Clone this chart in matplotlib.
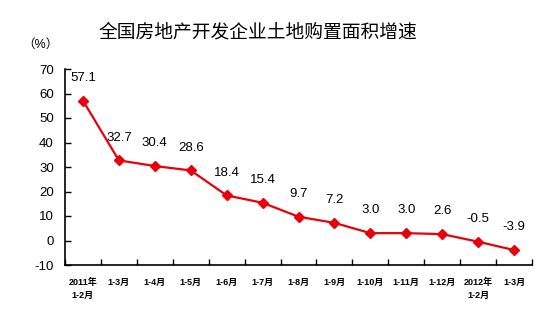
import numpy as np
import matplotlib
matplotlib.use("Agg")
import matplotlib.pyplot as plt

plt.rcParams["font.family"] = ["Liberation Sans", "Noto Sans CJK SC"]

# ── 数据 ────────────────────────────────────────────────────────────────
CATEGORIES = ["2011年\n1-2月", "1-3月", "1-4月", "1-5月", "1-6月", "1-7月",
              "1-8月", "1-9月", "1-10月", "1-11月", "1-12月",
              "2012年\n1-2月", "1-3月"]
GROWTH = [57.1, 32.7, 30.4, 28.6, 18.4, 15.4, 9.7, 7.2, 3.0, 3.0, 2.6, -0.5, -3.9]
Y_TICKS = [-10, 0, 10, 20, 30, 40, 50, 60, 70]

RED = "#E8000B"

fig = plt.figure(figsize=(5.55, 3.23), dpi=100)
ax = fig.add_axes([65 / 555, 58 / 323, 467 / 555, 196 / 323])

x = np.arange(len(GROWTH))
ax.plot(x, GROWTH, color=RED, linewidth=1.6, marker="D", markersize=5,
        markerfacecolor=RED, markeredgecolor=RED, zorder=3)

for xi, v in zip(x, GROWTH):
    ax.annotate(f"{v:.1f}", (xi, v), xytext=(0, 12), textcoords="offset points",
                ha="center", va="bottom", fontsize=9.5, color="black")

ax.set_xlim(-0.5, len(GROWTH) - 0.5)
ax.set_ylim(-10, 70)
ax.set_yticks(Y_TICKS)
ax.set_yticklabels([str(t) for t in Y_TICKS], fontsize=9.5)

# 分类标签放在格子中间，刻度线放在格子边界
ax.set_xticks(np.arange(len(GROWTH) + 1) - 0.5)
ax.set_xticklabels([])
ax.set_xticks(x, minor=True)
ax.set_xticklabels(CATEGORIES, minor=True, fontsize=6.5, fontweight="bold",
                   linespacing=1.6, va="top")
ax.tick_params(axis="x", which="minor", length=0, pad=9)
ax.tick_params(axis="x", which="major", direction="in", length=4, width=1)
ax.tick_params(axis="y", direction="in", length=4, width=1, pad=8)

for side in ("top", "right"):
    ax.spines[side].set_visible(False)
for side in ("left", "bottom"):
    ax.spines[side].set_linewidth(1.2)

fig.text(258 / 555, 1 - 33 / 323, "全国房地产开发企业土地购置面积增速",
         ha="center", va="center", fontsize=13.5)
fig.text(40 / 555, 1 - 45 / 323, "（%）", ha="center", va="center", fontsize=9)

fig.savefig("out.png", dpi=100)
